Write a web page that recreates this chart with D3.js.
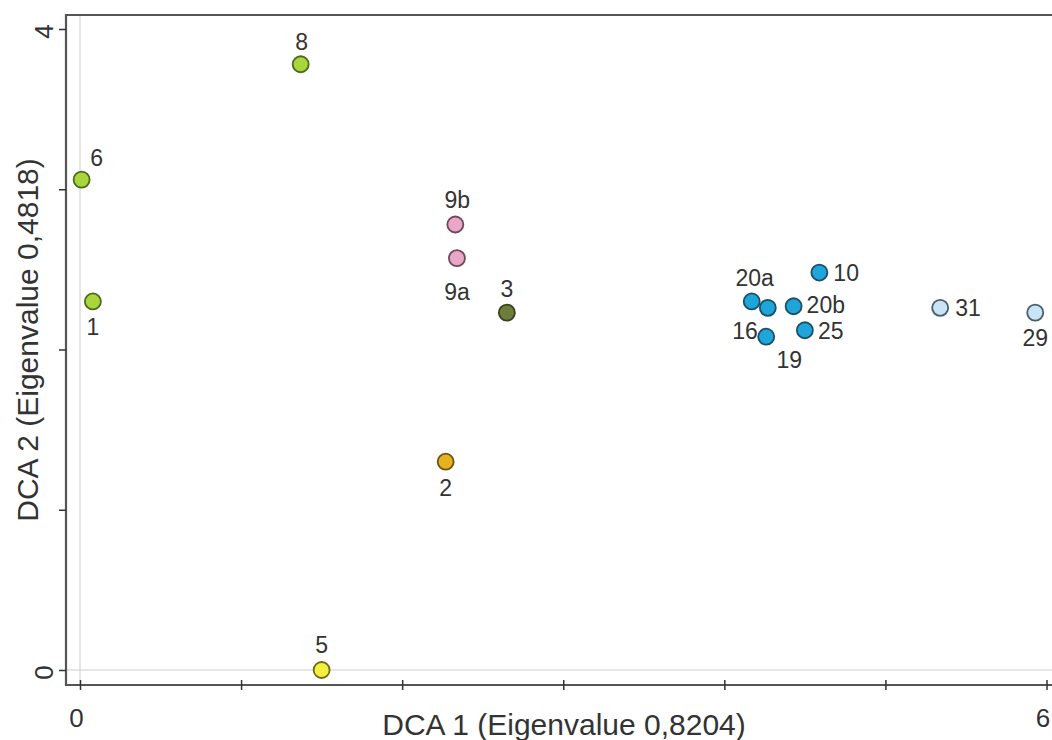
<!DOCTYPE html>
<html>
<head>
<meta charset="utf-8">
<script src="https://cdn.jsdelivr.net/npm/d3@7"></script>
<style>
  html, body { margin: 0; padding: 0; background: #fff; }
  svg { display: block; }
  text { font-family: "Liberation Sans", Arial, sans-serif; }
</style>
</head>
<body>
<svg id="chart" width="1052" height="740"></svg>
<script>
// Site scores on the first two DCA axes
const sites  = ["8", "6", "1", "9b", "9a", "3", "2", "5", "20a", "10", "16", "20b", "25", "19", "31", "29"];
const dca1   = [1.37, 0.01, 0.08, 2.33, 2.34, 2.65, 2.27, 1.50, 4.17, 4.59, 4.27, 4.43, 4.50, 4.26, 5.34, 5.93];
const dca2   = [3.78, 3.06, 2.30, 2.78, 2.57, 2.23, 1.30, 0.00, 2.30, 2.48, 2.26, 2.27, 2.12, 2.08, 2.26, 2.23];
const groups = ["g1", "g1", "g1", "g9", "g9", "g3", "g2", "g5", "gB", "gB", "gB", "gB", "gB", "gB", "gL", "gL"];

const xTicks = [0, 1, 2, 3, 4, 5, 6];
const yTicks = [0, 1, 2, 3, 4];
const xTickLabels = { 0: "0", 6: "6" };
const yTickLabels = { 0: "0", 4: "4" };

const xTitle = "DCA 1 (Eigenvalue 0,8204)";
const yTitle = "DCA 2 (Eigenvalue 0,4818)";

// Fill / outline per group
const palette = {
  g1: { fill: "#a9d63c", stroke: "#4d6a1c" },
  g9: { fill: "#eaa6c6", stroke: "#6e4a5a" },
  g3: { fill: "#6f7d3a", stroke: "#3b4220" },
  g2: { fill: "#e6b21e", stroke: "#6b5418" },
  g5: { fill: "#f2f03c", stroke: "#6e6a20" },
  gB: { fill: "#1ea6db", stroke: "#1b4f66" },
  gL: { fill: "#c8e4f6", stroke: "#4a5e6c" }
};

// Label placement relative to each marker: [dx, dy, anchor]
const labelPlace = {
  "8":  [1, -14, "middle"],
  "6":  [15, -14, "middle"],
  "1":  [0, 34, "middle"],
  "9b": [2, -17, "middle"],
  "9a": [0, 42, "middle"],
  "3":  [0, -16, "middle"],
  "2":  [0, 34, "middle"],
  "5":  [0, -17, "middle"],
  "20a":[3, -15, "middle"],
  "10": [14, 8, "start"],
  "16": [-10, 31, "end"],
  "20b":[13, 7, "start"],
  "25": [13, 8.5, "start"],
  "19": [23, 31.5, "middle"],
  "31": [15, 8, "start"],
  "29": [0, 33, "middle"]
};

const svg = d3.select("#chart");

const x = d3.scaleLinear().domain([0, 6]).range([80, 1046.5]);
const y = d3.scaleLinear().domain([0, 4]).range([670, 29]);

const frameLeft = 66, frameTop = 15, frameBottom = 685;

// Zero reference lines
svg.append("line")
  .attr("x1", x(0)).attr("x2", x(0))
  .attr("y1", frameTop).attr("y2", frameBottom)
  .attr("stroke", "#cdcdcd").attr("stroke-width", 1);
svg.append("line")
  .attr("x1", frameLeft).attr("x2", 1060)
  .attr("y1", y(0)).attr("y2", y(0))
  .attr("stroke", "#cdcdcd").attr("stroke-width", 1);

// Plot frame
svg.append("path")
  .attr("d", `M1060,${frameTop}H${frameLeft}V${frameBottom}H1060`)
  .attr("fill", "none")
  .attr("stroke", "#555")
  .attr("stroke-width", 2.2);

// X axis ticks (crossing the bottom frame line)
const xAxis = d3.axisBottom(x)
  .tickValues(xTicks)
  .tickSize(0)
  .tickFormat(d => xTickLabels[d] || "");
const gx = svg.append("g")
  .attr("transform", `translate(0,${frameBottom})`)
  .call(xAxis);
gx.select(".domain").remove();
gx.selectAll(".tick line").remove();
gx.selectAll(".tick").append("line")
  .attr("y1", -5).attr("y2", 5)
  .attr("stroke", "#333").attr("stroke-width", 1.5);
gx.selectAll(".tick text")
  .attr("x", -4)
  .attr("y", 42).attr("dy", 0)
  .attr("fill", "#333")
  .style("font-size", "26px");

// Y axis ticks (outside the left frame line), rotated labels
const yAxis = d3.axisLeft(y)
  .tickValues(yTicks)
  .tickSize(7)
  .tickFormat(d => yTickLabels[d] || "");
const gy = svg.append("g")
  .attr("transform", `translate(${frameLeft},0)`)
  .call(yAxis);
gy.select(".domain").remove();
gy.selectAll(".tick line").attr("stroke", "#333").attr("stroke-width", 1.5);
gy.selectAll(".tick text")
  .attr("x", null)
  .attr("transform", "translate(-22,2) rotate(-90)")
  .attr("text-anchor", "middle")
  .attr("dy", "0.36em")
  .attr("fill", "#333")
  .style("font-size", "26px");

// Axis titles
svg.append("text")
  .attr("x", 564).attr("y", 735)
  .attr("text-anchor", "middle")
  .attr("fill", "#333")
  .style("font-size", "30px")
  .text(xTitle);
svg.append("text")
  .attr("transform", "translate(38,340) rotate(-90)")
  .attr("text-anchor", "middle")
  .attr("fill", "#333")
  .style("font-size", "30px")
  .text(yTitle);

// Points
const data = sites.map((s, i) => ({ site: s, a: dca1[i], b: dca2[i], g: groups[i] }));

svg.append("g").selectAll("circle")
  .data(data)
  .join("circle")
  .attr("cx", d => x(d.a))
  .attr("cy", d => y(d.b))
  .attr("r", 8)
  .attr("fill", d => palette[d.g].fill)
  .attr("stroke", d => palette[d.g].stroke)
  .attr("stroke-width", 1.8);

// Site labels
svg.append("g").selectAll("text")
  .data(data)
  .join("text")
  .attr("x", d => x(d.a) + labelPlace[d.site][0])
  .attr("y", d => y(d.b) + labelPlace[d.site][1])
  .attr("text-anchor", d => labelPlace[d.site][2])
  .attr("fill", "#333")
  .style("font-size", "23px")
  .text(d => d.site);
</script>
</body>
</html>
